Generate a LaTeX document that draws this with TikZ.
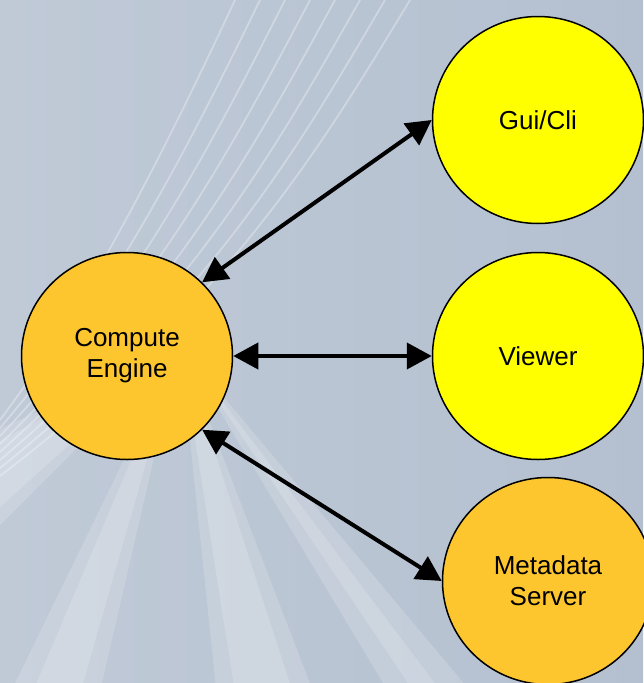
\documentclass[tikz,border=0pt]{standalone}
\usepackage{fontspec}
\setmainfont{Liberation Sans}
\usetikzlibrary{shapes.geometric, arrows.meta}
\definecolor{bgleft}{RGB}{192,202,215}
\definecolor{bgright}{RGB}{180,192,208}
\definecolor{engineorange}{RGB}{253,198,47}
\definecolor{clientyellow}{RGB}{255,255,0}

\begin{document}
\begin{tikzpicture}[x=1pt, y=-1pt,
        blob/.style={ellipse, draw, line width=1.5pt, minimum width=211pt, minimum height=207pt,
            inner sep=0pt, align=center, font=\fontsize{26}{31}\selectfont},
        link/.style={line width=4pt, {Triangle[length=25pt,width=26pt]}-{Triangle[length=25pt,width=26pt]}},
        ray/.style={white, fill opacity=0.16},
        streak/.style={white, opacity=0.3, line width=1.8pt}]
        \useasboundingbox (0, 0) rectangle (643, 683);
        % background
        \begin{scope}
            \clip (0, 0) rectangle (643, 683);
            \shade[left color=bgleft, right color=bgright] (0, 0) rectangle (643, 683);
            \foreach \a/\b in {135/155, 103/116, 69/84, 50/59} {
                \fill[ray] (180, 345) -- +(\a:900) -- +(\b:900) -- cycle;
                \fill[ray] (180, 345) -- +(\a+3:900) -- +(\b-3:900) -- cycle;
            }
            \foreach \i in {0,...,7}
                \draw[streak] (235+25*\i, 0) .. controls (165+22*\i, 150) and (90+20*\i, 300) .. (0, 420+8*\i);
        \end{scope}
        % nodes
        \node[blob, fill=engineorange] (engine) at (127, 356) {Compute\\Engine};
        \node[blob, fill=clientyellow] (gui) at (538, 120) {Gui/Cli};
        \node[blob, fill=clientyellow] (viewer) at (538, 356) {Viewer};
        \node[blob, fill=engineorange] (meta) at (548, 581) {Metadata\\Server};
        % links
        \draw[link] (engine.north east) -- (gui.west);
        \draw[link] (engine.east) -- (viewer.west);
        \draw[link] (engine.south east) -- (meta.west);

    \end{tikzpicture}
\end{document}
